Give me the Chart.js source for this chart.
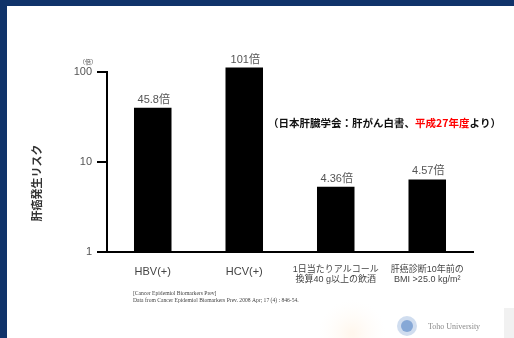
<!DOCTYPE html>
<html>
<head>
<meta charset="utf-8">
<script src="https://cdn.jsdelivr.net/npm/chart.js@4"></script>
<style>
  html, body { margin: 0; padding: 0; background: #fff; }
  canvas { display: block; }
</style>
</head>
<body>
<canvas id="myChart" width="514" height="338"></canvas>
<script>
// data
const categories = [
  ['HBV(+)'],
  ['HCV(+)'],
  ['1日当たりアルコール', '換算40 g以上の飲酒'],
  ['肝癌診断10年前の', 'BMI >25.0 kg/m²']
];
const riskValues = [40, 112, 5.3, 6.4];
const valueLabels = ['45.8倍', '101倍', '4.36倍', '4.57倍'];
const yTicks = [1, 10, 100];

const JP = '"Liberation Sans", "Noto Sans CJK JP", sans-serif';

const decorations = {
  id: 'decorations',
  beforeDraw(chart) {
    const ctx = chart.ctx;
    ctx.save();
    ctx.fillStyle = '#fff';
    ctx.fillRect(0, 0, 514, 338);
    // faint logo wash bottom right
    const g = ctx.createRadialGradient(352, 334, 2, 352, 334, 34);
    g.addColorStop(0, 'rgba(255,232,205,0.35)');
    g.addColorStop(1, 'rgba(255,245,235,0)');
    ctx.fillStyle = g;
    ctx.fillRect(310, 300, 90, 38);
    ctx.fillStyle = 'rgba(232,232,232,0.6)';
    ctx.fillRect(504, 308, 10, 30);
    // frame
    ctx.fillStyle = '#10336a';
    ctx.fillRect(0, 0, 514, 6);
    ctx.fillRect(0, 0, 7, 338);
    ctx.restore();
  },
  afterDatasetsDraw(chart) {
    const ctx = chart.ctx;
    const meta = chart.getDatasetMeta(0);
    ctx.save();
    ctx.textAlign = 'center';
    ctx.textBaseline = 'alphabetic';
    ctx.fillStyle = '#555';
    ctx.font = '11px ' + JP;
    meta.data.forEach((bar, i) => {
      ctx.fillText(valueLabels[i], bar.x + 1, bar.y - 5);
    });

    // y title
    ctx.save();
    ctx.translate(37, 183);
    ctx.rotate(-Math.PI / 2);
    ctx.fillStyle = '#333';
    ctx.font = 'bold 11px "Noto Sans CJK JP", sans-serif';
    ctx.textBaseline = 'middle';
    ctx.fillText('肝癌発生リスク', 0, 0);
    ctx.restore();

    // unit
    ctx.fillStyle = '#555';
    ctx.font = '6px "Noto Sans CJK JP", sans-serif';
    ctx.fillText('（倍）', 88, 64);

    // source note
    ctx.textAlign = 'left';
    ctx.font = 'bold 10.5px "Noto Sans CJK JP", sans-serif';
    const parts = [['（日本肝臓学会：肝がん白書、', '#111'], ['平成27年度', '#f00'], ['より）', '#111']];
    let x = 268;
    parts.forEach(([t, c]) => {
      ctx.fillStyle = c;
      ctx.fillText(t, x, 127);
      x += ctx.measureText(t).width;
    });

    // reference
    ctx.fillStyle = '#444';
    ctx.font = '5.6px "Liberation Serif", serif';
    ctx.fillText('[Cancer Epidemiol Biomarkers Prev]', 133, 295);
    ctx.fillText('Data from Cancer Epidemiol Biomarkers Prev. 2008 Apr; 17 (4) : 846-54.', 133, 302);

    // logo
    ctx.fillStyle = 'rgba(150,180,220,0.45)';
    ctx.beginPath();
    ctx.arc(407, 326, 10, 0, Math.PI * 2);
    ctx.fill();
    ctx.fillStyle = 'rgba(110,150,205,0.75)';
    ctx.beginPath();
    ctx.arc(407, 326, 6, 0, Math.PI * 2);
    ctx.fill();
    ctx.fillStyle = '#8a8a8a';
    ctx.font = '8px "Liberation Serif", serif';
    ctx.fillText('Toho University', 428, 329);
    ctx.restore();
  }
};

new Chart(document.getElementById('myChart'), {
  type: 'bar',
  data: {
    labels: categories,
    datasets: [{
      data: riskValues,
      backgroundColor: '#000',
      borderWidth: 0,
      barPercentage: 0.82,
      categoryPercentage: 0.5,
      clip: false
    }]
  },
  options: {
    responsive: false,
    animation: false,
    devicePixelRatio: 1,
    layout: { padding: { left: 0, right: 41, top: 72, bottom: 0 } },
    plugins: { legend: { display: false }, tooltip: { enabled: false } },
    scales: {
      y: {
        type: 'logarithmic',
        min: 1,
        max: 100,
        afterFit(s) { s.width = 107; },
        afterBuildTicks(s) { s.ticks = yTicks.map(v => ({ value: v })); },
        border: { display: true, color: '#000', width: 2 },
        grid: { drawOnChartArea: false, color: '#000', lineWidth: 2, tickLength: 10 },
        ticks: {
          color: '#555',
          padding: 5,
          font: { family: JP, size: 11 },
          callback: v => String(v)
        }
      },
      x: {
        afterFit(s) { s.height = 86; },
        border: { display: true, color: '#000', width: 2 },
        grid: { display: false },
        ticks: {
          color: '#444',
          padding: 5,
          maxRotation: 0,
          autoSkip: false,
          font: c => (c.index < 2 ? { family: JP, size: 11 } : { family: JP, size: 9, lineHeight: 1.1 })
        }
      }
    }
  },
  plugins: [decorations]
});
</script>
</body>
</html>
